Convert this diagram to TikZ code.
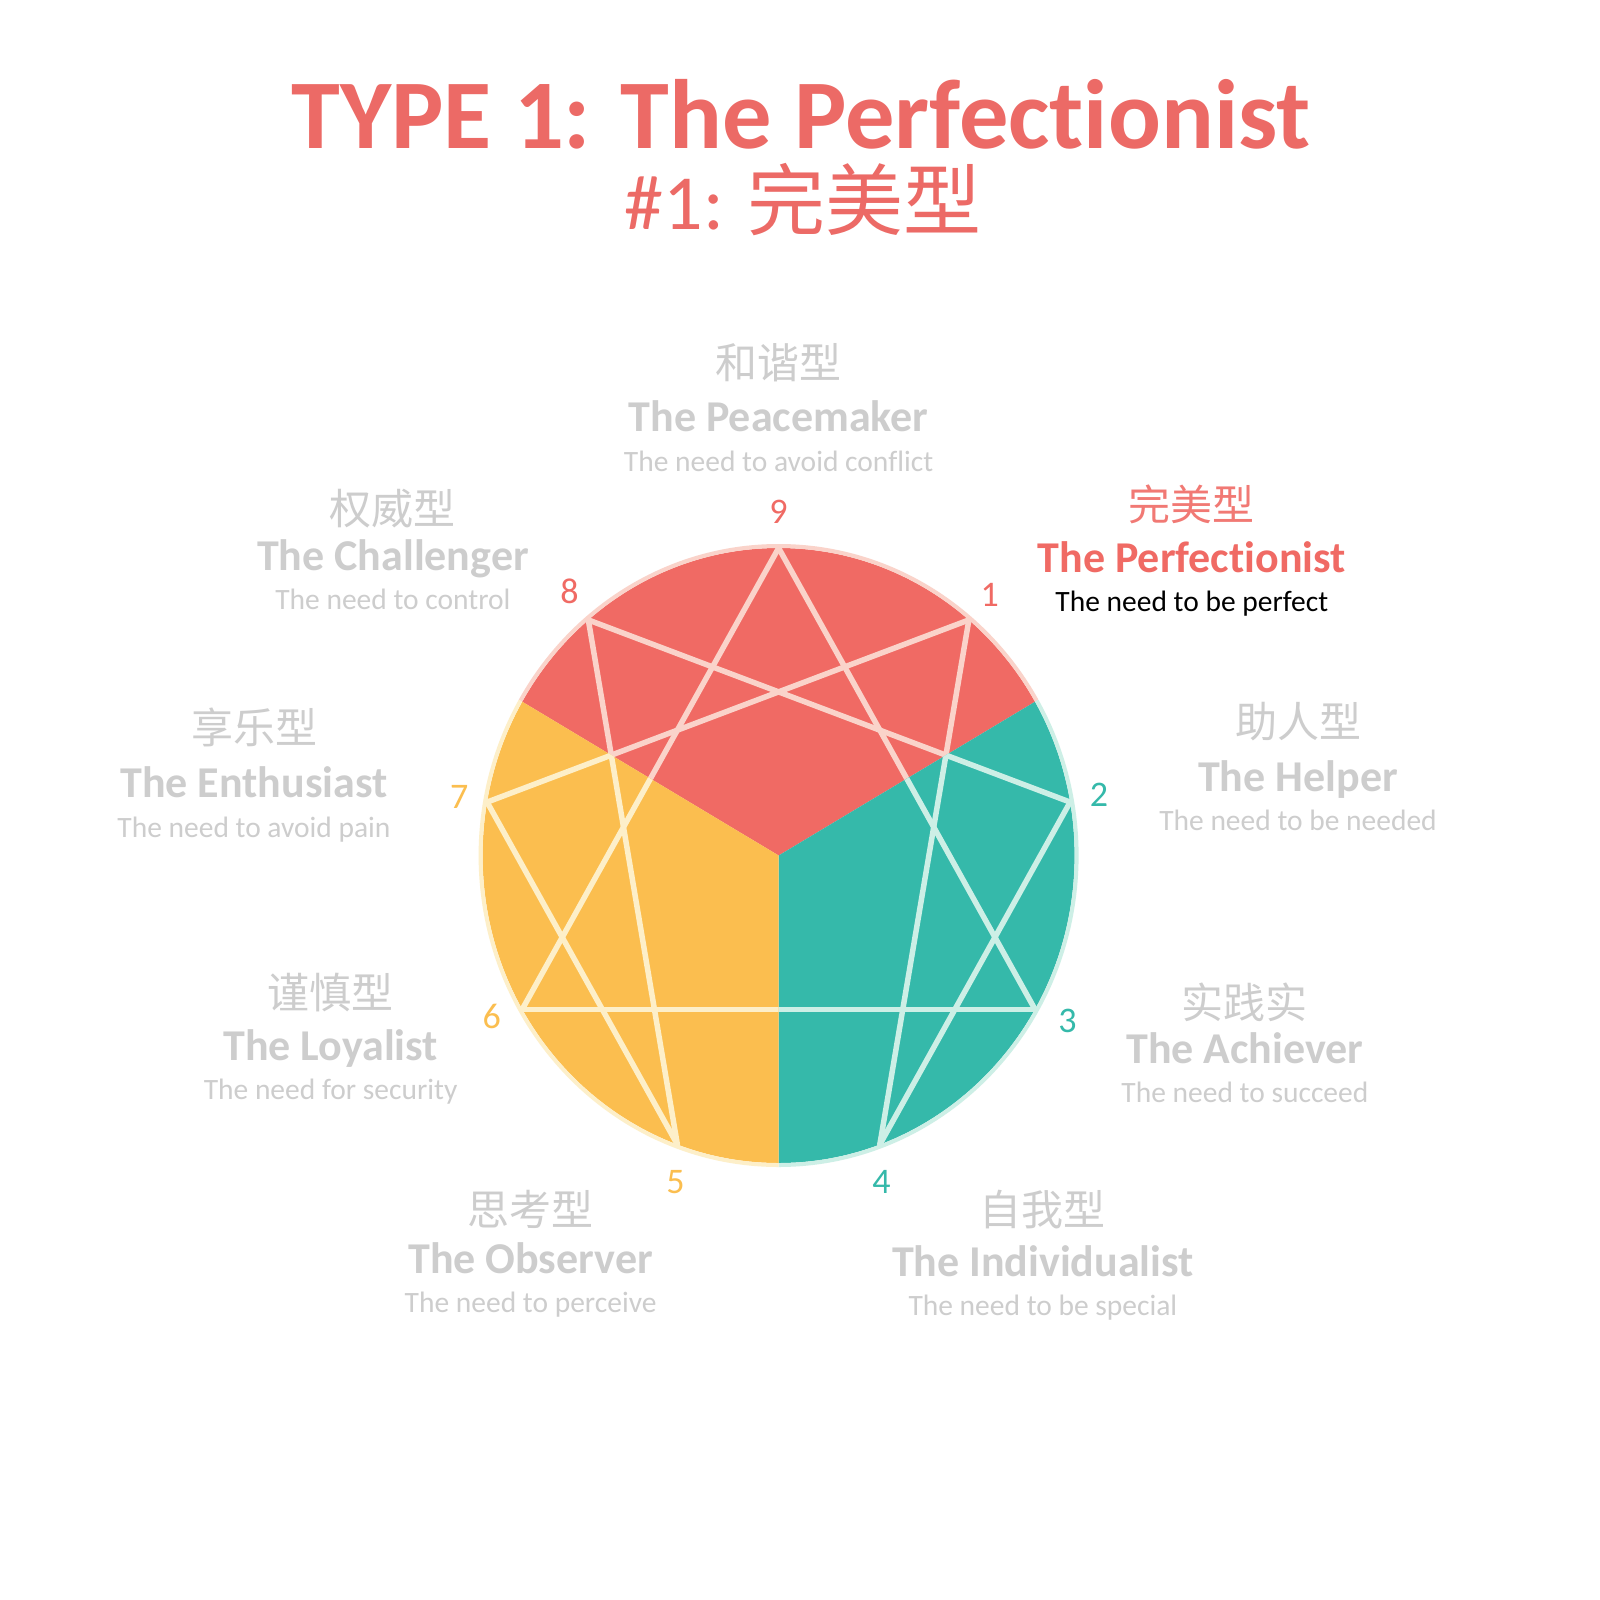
\documentclass[tikz,border=0pt]{standalone}
\usepackage{fontspec}
\setmainfont{Carlito}[Ligatures=NoCommon]
\newfontfamily\cjk{Noto Sans CJK SC}
\usetikzlibrary{calc}
\definecolor{typered}{HTML}{F06A64}
\definecolor{typeyellow}{HTML}{FBBE4F}
\definecolor{typeteal}{HTML}{35B9AA}
\definecolor{palered}{HTML}{FAD3CA}
\definecolor{paleyellow}{HTML}{FDEFC9}
\definecolor{paleteal}{HTML}{CDEFE6}
\definecolor{titlered}{HTML}{EC6A66}
\definecolor{labelgray}{HTML}{CDCDCD}
% centre and radii of the enneagram (in px of the picture)
\newcommand{\encx}{778.6}
\newcommand{\ency}{855.5}
\newcommand{\enrx}{296}
\newcommand{\enry}{307.5}

\begin{document}
\begin{tikzpicture}[x=1pt, y=-1pt,
  titletext/.style={font=\bfseries\fontsize{98.5}{100}\selectfont, anchor=base, inner sep=0pt},
  subtitle/.style={font=\fontsize{78}{80}\selectfont, anchor=base, inner sep=0pt},
  cjkname/.style={font=\cjk\fontsize{42}{42}\selectfont, text height=37pt, text depth=5pt, inner sep=0pt},
  typename/.style={font=\bfseries\fontsize{44}{44}\selectfont, text height=28.3pt, text depth=0pt, inner sep=0pt},
  needtext/.style={font=\fontsize{29.5}{30}\selectfont, text height=19pt, text depth=0pt, inner sep=0pt},
  numlabel/.style={font=\fontsize{36}{36}\selectfont, text height=22.8pt, text depth=0pt, inner sep=0pt},
  enline/.style={line width=5.5pt, line cap=round}]
  \useasboundingbox[fill=white] (0,0) rectangle (1600,1600);

  % title
  \node[titletext, text=titlered] (title) at (801,148) {TYPE 1: The Perfectionist};
  \node[subtitle, text=titlered] (subtitle) at (803,229.6) {\#1: {\cjk 完美型}};

  % points of the enneagram
  \coordinate (c) at (\encx,\ency);
  \foreach \k in {1,...,9}
    \coordinate (p\k) at ({\encx+\enrx*sin(40*\k)}, {\ency-\enry*cos(40*\k)});

  % the three centres, each with its own pale lines
  \foreach \from/\mid/\to/\fillc/\linec in {-60/0/60/typered/palered, 60/120/180/typeteal/paleteal, 180/240/300/typeyellow/paleyellow}{
    \begin{scope}
      \clip (c) -- ({\encx+2*\enrx*sin(\from)}, {\ency-2*\enry*cos(\from)})
        -- ({\encx+2*\enrx*sin(\mid)}, {\ency-2*\enry*cos(\mid)})
        -- ({\encx+2*\enrx*sin(\to)}, {\ency-2*\enry*cos(\to)}) -- cycle;
      \fill[\fillc] (c) ellipse [x radius=296pt, y radius=307.5pt];
      \draw[\linec, line width=4pt] (c) ellipse [x radius=298pt, y radius=309.5pt];
      \foreach \a/\b in {9/3, 3/6, 6/9, 1/4, 4/2, 2/8, 8/5, 5/7, 7/1}
        \draw[enline, \linec] (p\a) -- (p\b);
    \end{scope}
  }

  % numbers
  \foreach \k/\col/\x/\y in {9/typered/778.6/512.2, 1/typered/989.8/594.9, 2/typeteal/1099/794.9,
      3/typeteal/1067.4/1021.4, 4/typeteal/881.6/1181.6, 5/typeyellow/675.5/1181.6,
      6/typeyellow/491.8/1017.4, 7/typeyellow/459.2/797, 8/typered/569.4/591.8}
    \node[numlabel, text=\col] (n\k) at (\x,\y) {\k};

  % type 1 (highlighted)
  \node[cjkname, text=typered!90] (cn1) at (1191.8,504.1) {完美型};
  \node[typename, text=typered] (en1) at (1191.8,558.2) {The Perfectionist};
  \node[needtext, text=black] (need1) at (1191.8,602) {The need to be perfect};

  % the other types
  \foreach \k/\cn/\en/\need/\x/\ya/\yb/\yc in {
      9/和谐型/The Peacemaker/The need to avoid conflict/778.6/362.2/417.3/462.2,
      8/权威型/The Challenger/The need to control/392.9/508.2/556.1/600,
      2/助人型/The Helper/The need to be needed/1298/721.4/777.6/821.4,
      7/享乐型/The Enthusiast/The need to avoid pain/254/727.6/783.7/827.6,
      6/谨慎型/The Loyalist/The need for security/330.6/992.9/1045.9/1089.8,
      3/实践实/The Achiever/The need to succeed/1244.9/1002/1049/1092.9,
      5/思考型/The Observer/The need to perceive/530.6/1209.2/1259.2/1303,
      4/自我型/The Individualist/The need to be special/1042.9/1209.2/1262.2/1306.1}{
    \node[cjkname, text=labelgray] (cn\k) at (\x,\ya) {\cn};
    \node[typename, text=labelgray] (en\k) at (\x,\yb) {\en};
    \node[needtext, text=labelgray] (need\k) at (\x,\yc) {\need};
  }
\end{tikzpicture}
\end{document}
